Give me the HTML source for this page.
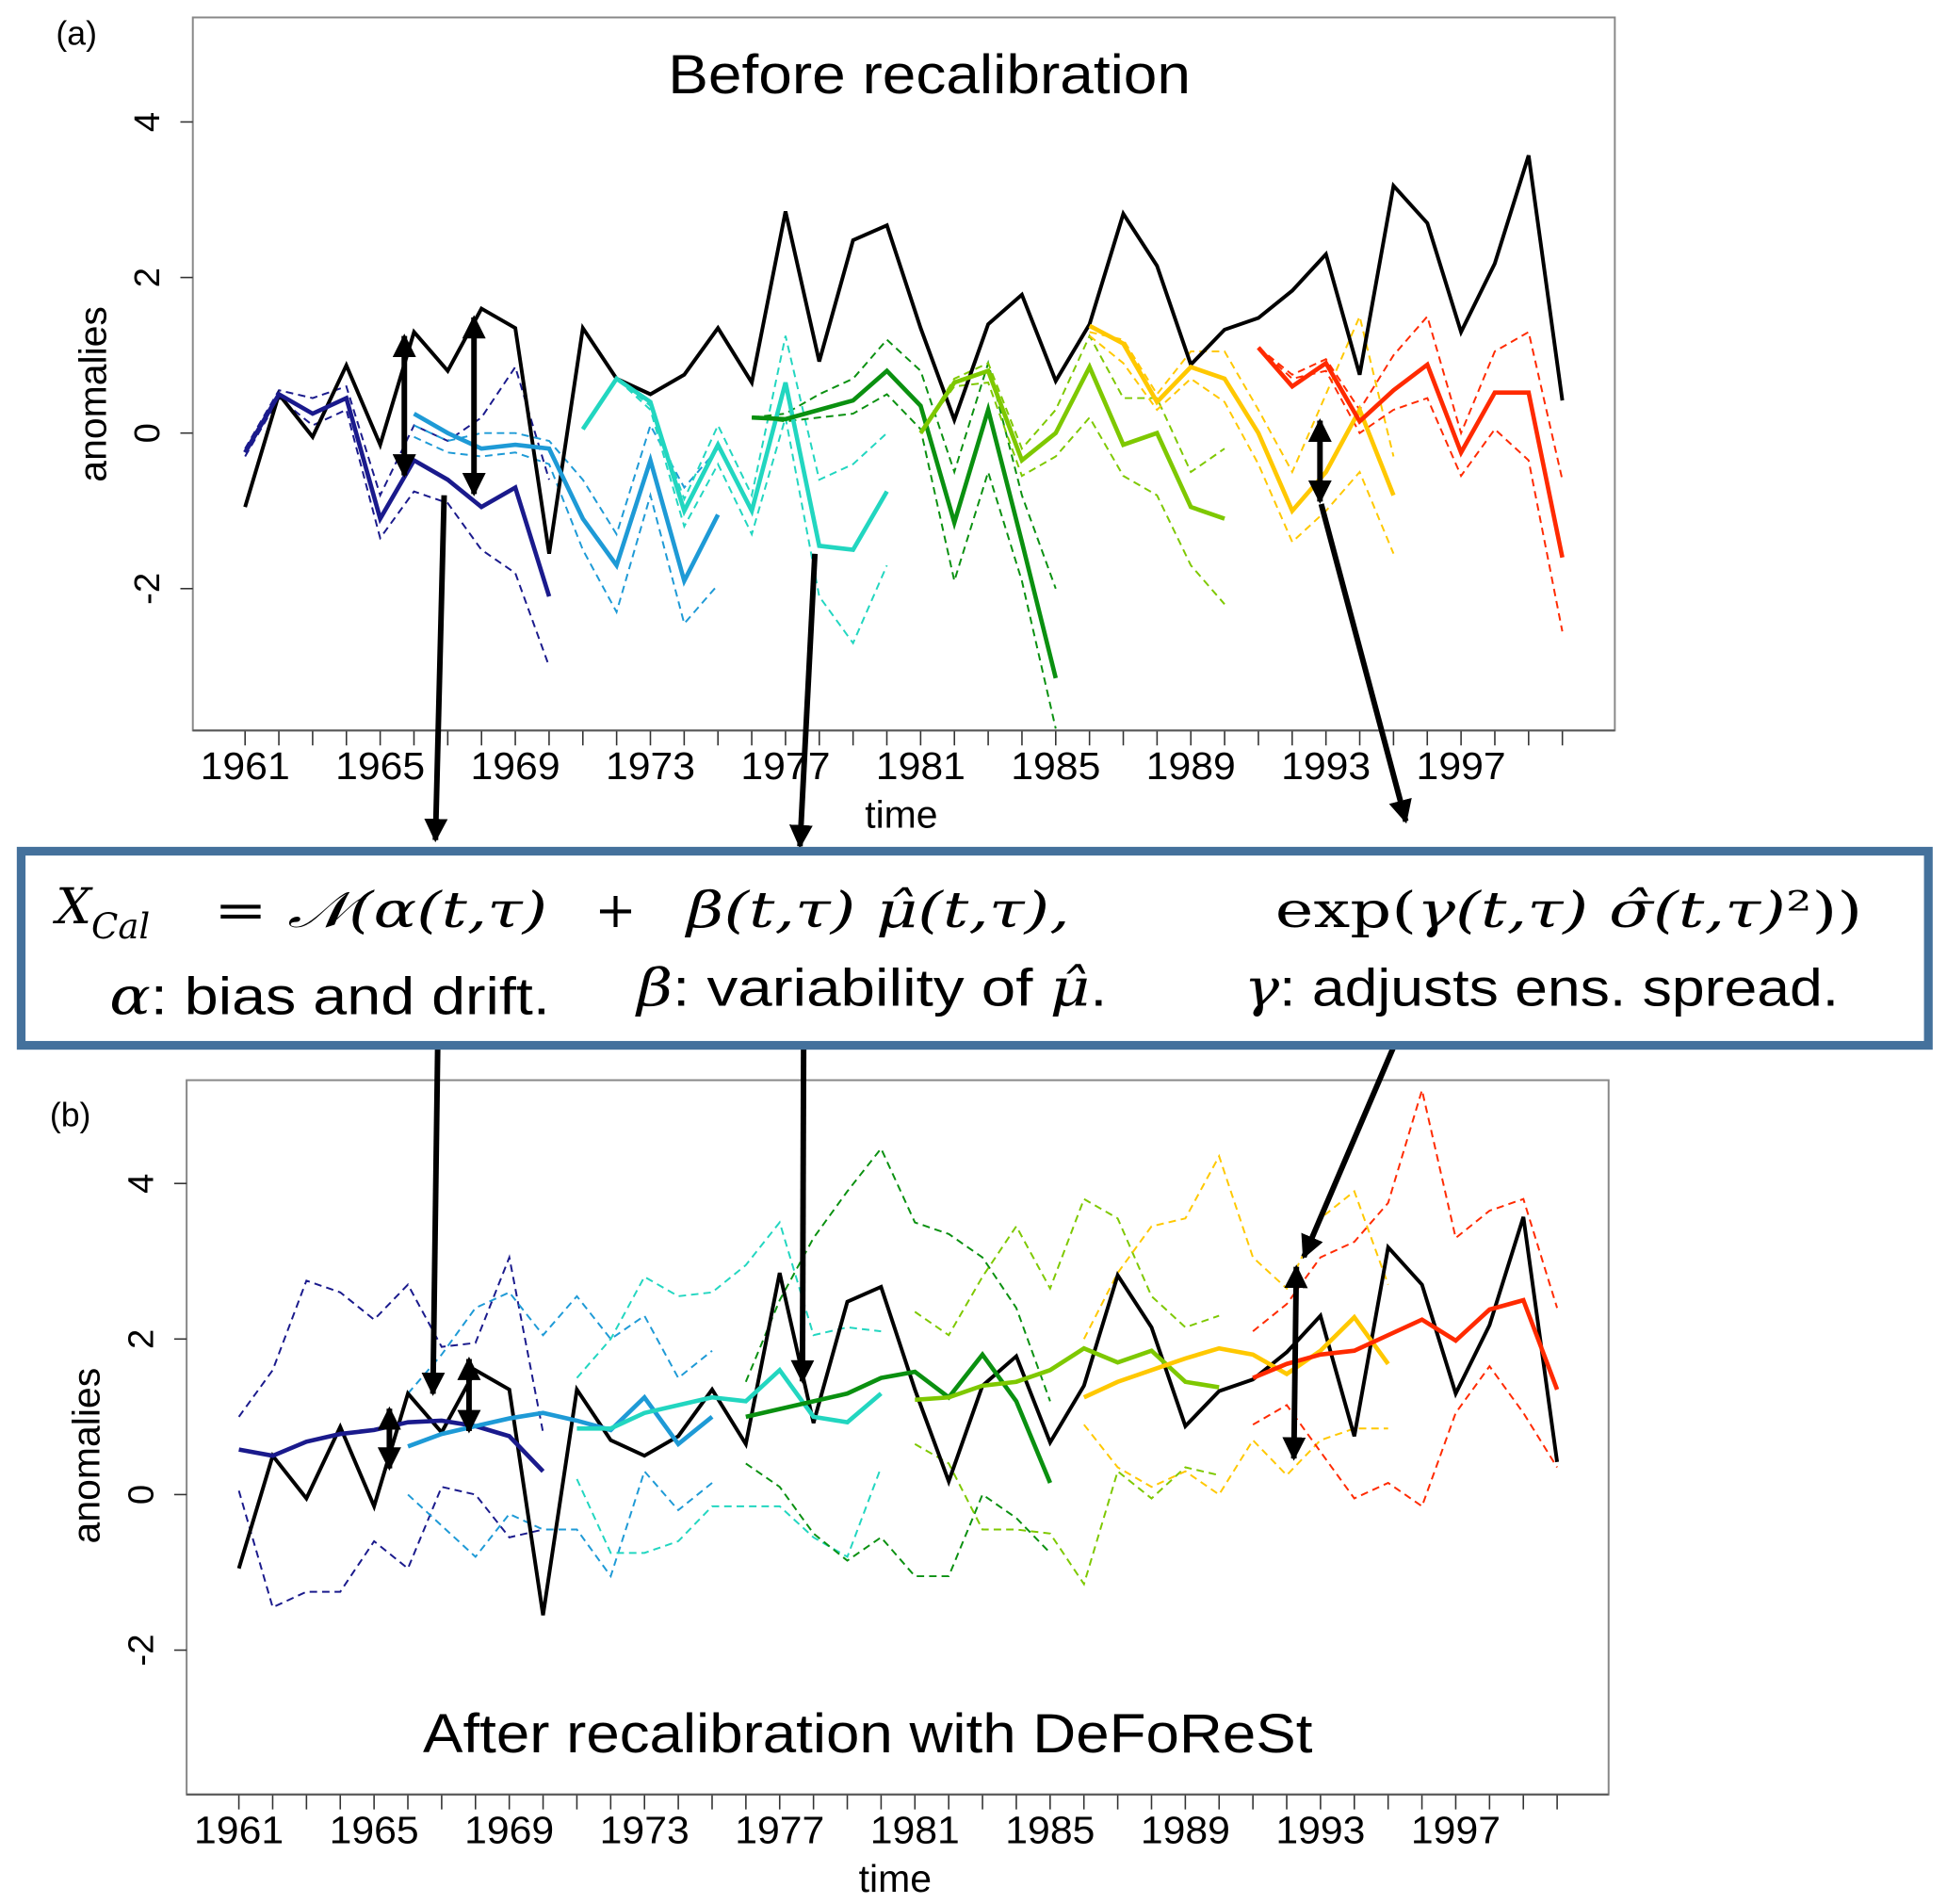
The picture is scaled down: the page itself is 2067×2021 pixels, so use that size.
<!DOCTYPE html>
<html><head><meta charset="utf-8"><style>
html,body{margin:0;padding:0;background:#fff;}
svg{display:block;}
text{font-family:"Liberation Sans",sans-serif;}
.cal{font-family:"Liberation Sans Narrow","Liberation Sans",sans-serif;}
.math{font-family:"DejaVu Serif","Liberation Serif",serif;font-style:italic;}
.up{font-family:"DejaVu Serif","Liberation Serif",serif;font-style:normal;}
</style></head><body>
<svg id="fig" width="2067" height="2021" viewBox="0 0 1565 1530" preserveAspectRatio="none" xmlns="http://www.w3.org/2000/svg">
<defs>
<marker id="ah" viewBox="0 0 10 10" refX="9" refY="5" markerWidth="4.2" markerHeight="4.2" orient="auto-start-reverse"><path d="M0,0 L10,5 L0,10 z" fill="#000"/></marker>
</defs>
<g id="panelA"></g>
<g id="panelB"></g>
<g id="arrows"></g>
<g>
<rect x="17" y="684" width="1533" height="156" fill="#fff" stroke="#44719c" stroke-width="7"/>
<text x="45" y="742" font-size="40" class="math">X<tspan font-size="28" dy="12">Cal</tspan></text>
<text x="172" y="745" font-size="40" class="math" textLength="268" lengthAdjust="spacingAndGlyphs"><tspan class="up">= </tspan>𝒩(α(t,τ)</text>
<text x="478" y="745" font-size="40" class="up">+</text>
<text x="552" y="745" font-size="40" class="math" textLength="308" lengthAdjust="spacingAndGlyphs">β(t,τ) μ̂(t,τ),</text>
<text x="1025" y="745" font-size="40" class="math" textLength="472" lengthAdjust="spacingAndGlyphs"><tspan class="up">exp(</tspan>γ(t,τ) σ̂(t,τ)<tspan class="up">²))</tspan></text>
<text x="88" y="815" font-size="42" class="cal" textLength="354" lengthAdjust="spacingAndGlyphs"><tspan class="math">α</tspan>: bias and drift.</text>
<text x="512" y="808" font-size="42" class="cal" textLength="378" lengthAdjust="spacingAndGlyphs"><tspan class="math">β</tspan>: variability of <tspan class="math">μ̂</tspan>.</text>
<text x="1000" y="808" font-size="42" class="cal" textLength="478" lengthAdjust="spacingAndGlyphs"><tspan class="math">γ</tspan>: adjusts ens. spread.</text>
</g>
</svg>
<script>
const years = [1961,1962,1963,1964,1965,1966,1967,1968,1969,1970,1971,1972,1973,1974,1975,1976,1977,1978,1979,1980,1981,1982,1983,1984,1985,1986,1987,1988,1989,1990,1991,1992,1993,1994,1995,1996,1997,1998,1999,2000];
const obs = [-0.95,0.5,-0.05,0.87,-0.15,1.3,0.8,1.6,1.35,-1.55,1.35,0.7,0.5,0.75,1.35,0.65,2.85,0.92,2.48,2.67,1.35,0.17,1.4,1.78,0.67,1.4,2.82,2.15,0.88,1.33,1.48,1.83,2.3,0.75,3.18,2.7,1.3,2.18,3.57,0.42];
const startYears = [1961,1966,1971,1976,1981,1986,1991];
const colors = ["#1a1a8c","#1e9ad6","#22d6c0","#0a9010","#7ec800","#ffc800","#ff2a00"];
// Panel (a) before recalibration
const aMean = [
[-0.25,0.5,0.25,0.45,-1.1,-0.35,-0.6,-0.95,-0.7,-2.1],
[0.25,0.0,-0.2,-0.15,-0.2,-1.1,-1.7,-0.35,-1.9,-1.05],
[0.05,0.7,0.4,-1.0,-0.15,-1.0,0.65,-1.45,-1.5,-0.75],
[0.2,0.18,0.3,0.42,0.8,0.35,-1.15,0.3,-1.4,-3.15],
[0.0,0.65,0.8,-0.35,0.0,0.85,-0.15,0.0,-0.95,-1.1],
[1.38,1.15,0.4,0.85,0.7,0.0,-1.0,-0.5,0.3,-0.8],
[1.1,0.6,0.9,0.15,0.55,0.88,-0.25,0.52,0.52,-1.6]];
const aUpper = [
[-0.2,0.55,0.45,0.6,-0.8,0.1,-0.1,0.2,0.85,-0.6],
[0.1,-0.1,0.0,0.0,-0.1,-0.6,-1.3,0.1,-0.7,-0.2],
[0.05,0.7,0.35,-0.85,0.1,-0.8,1.25,-0.6,-0.4,0.0],
[0.2,0.25,0.5,0.7,1.2,0.8,-0.5,0.9,-0.8,-2.0],
[0.0,0.7,0.9,-0.2,0.3,1.25,0.45,0.45,-0.5,-0.2],
[1.3,1.2,0.5,1.05,1.05,0.3,-0.5,0.5,1.5,-0.3],
[1.1,0.75,0.95,0.3,1.0,1.5,0.0,1.05,1.3,-0.6]];
const aLower = [
[-0.3,0.45,0.1,0.3,-1.35,-0.75,-0.9,-1.5,-1.8,-3.0],
[-0.05,-0.25,-0.3,-0.25,-0.4,-1.5,-2.3,-0.8,-2.45,-1.95],
[0.05,0.7,0.3,-1.2,-0.4,-1.3,0.2,-2.1,-2.7,-1.7],
[0.2,0.15,0.2,0.25,0.5,0.05,-1.9,-0.5,-1.9,-3.8],
[0.0,0.6,0.65,-0.55,-0.3,0.2,-0.55,-0.8,-1.7,-2.2],
[1.25,0.9,0.3,0.7,0.4,-0.4,-1.4,-1.0,-0.5,-1.55],
[1.1,0.7,0.8,0.0,0.3,0.45,-0.55,0.05,-0.35,-2.55]];
// Panel (b) after recalibration
const bMean = [
[0.58,0.5,0.68,0.78,0.83,0.93,0.95,0.88,0.75,0.3],
[0.62,0.78,0.88,0.98,1.05,0.95,0.83,1.25,0.65,1.0],
[0.85,0.85,1.05,1.15,1.25,1.2,1.6,1.0,0.93,1.3],
[1.0,1.1,1.2,1.3,1.5,1.58,1.25,1.8,1.2,0.15],
[1.22,1.25,1.4,1.45,1.6,1.88,1.7,1.85,1.45,1.38],
[1.25,1.45,1.6,1.75,1.88,1.8,1.55,1.85,2.28,1.68],
[1.5,1.68,1.8,1.85,2.05,2.25,1.98,2.38,2.5,1.35]];
const bUpper = [
[1.0,1.6,2.75,2.6,2.25,2.7,1.9,1.95,3.05,0.8],
[1.3,1.8,2.4,2.6,2.05,2.55,2.0,2.3,1.5,1.85],
[1.5,2.0,2.8,2.55,2.6,2.95,3.5,2.05,2.15,2.1],
[1.45,2.5,3.3,3.9,4.45,3.5,3.35,3.05,2.4,1.2],
[2.35,2.05,2.8,3.45,2.65,3.8,3.55,2.55,2.15,2.3],
[2.0,2.85,3.45,3.55,4.35,3.05,2.65,3.55,3.9,2.7],
[2.1,2.45,3.05,3.25,3.75,5.2,3.3,3.65,3.8,2.4]];
const bLower = [
[0.05,-1.45,-1.25,-1.25,-0.6,-0.95,0.1,0.0,-0.55,-0.45],
[0.0,-0.4,-0.8,-0.25,-0.45,-0.45,-1.05,0.3,-0.2,0.15],
[0.2,-0.75,-0.75,-0.6,-0.15,-0.15,-0.15,-0.55,-0.8,0.35],
[0.4,0.1,-0.5,-0.85,-0.55,-1.05,-1.05,0.0,-0.3,-0.75],
[0.65,0.4,-0.45,-0.45,-0.5,-1.15,0.3,-0.05,0.35,0.25],
[0.9,0.35,0.1,0.3,0.0,0.7,0.25,0.7,0.85,0.85],
[0.9,1.15,0.55,-0.05,0.15,-0.15,1.05,1.65,1.05,0.35]];
const yTicks = [-2,0,2,4];
const xTickLabels = [1961,1965,1969,1973,1977,1981,1985,1989,1993,1997];

const NS="http://www.w3.org/2000/svg";
function mk(tag,attrs,parent){const e=document.createElementNS(NS,tag);for(const k in attrs)e.setAttribute(k,attrs[k]);parent.appendChild(e);return e;}

function drawPanel(g, P, mean, upper, lower, label, title, titleY, idp){
  const xs=y=>P.x0+(y-1961)*P.dx;
  const ys=v=>P.y0-v*P.dy;
  const box=mk('rect',{x:P.bx0,y:P.by0,width:P.bx1-P.bx0,height:P.by1-P.by0,fill:'none',stroke:'#888','stroke-width':1.5},g);
  
  
  const clipId=idp+'clip';
  const cp=mk('clipPath',{id:clipId},g);
  mk('rect',{x:P.bx0,y:P.by0,width:P.bx1-P.bx0,height:P.by1-P.by0},cp);
  years.forEach(y=>{
    const t=mk('line',{x1:xs(y),x2:xs(y),y1:P.by1,y2:P.by1+12,stroke:'#333','stroke-width':1.2},g);
    
    
  });
  mk('line',{x1:P.bx0,x2:P.bx1,y1:P.by1,y2:P.by1,stroke:'#555','stroke-width':1.5},g);
  xTickLabels.forEach(y=>{
    const t=mk('text',{x:xs(y)-36,y:P.by1+39,'font-size':31,class:'cal',textLength:72,lengthAdjust:'spacingAndGlyphs'},g);
    t.textContent=y;
    
    
  });
  yTicks.forEach(v=>{
    const tl=mk('line',{x1:P.bx0-10,x2:P.bx0,y1:ys(v),y2:ys(v),stroke:'#333','stroke-width':1.2},g);
    
    
    const t=mk('text',{x:0,y:0,'text-anchor':'middle','font-size':29,transform:`translate(${P.bx0-27},${ys(v)}) rotate(-90)`},g);
    t.textContent=v;
    
    
  });
  const yl=mk('text',{x:0,y:0,'text-anchor':'middle','font-size':31,transform:`translate(${P.bx0-70},${ys(0.5)}) rotate(-90)`},g);
  yl.textContent='anomalies';
  
  
  const xl=mk('text',{x:(P.bx0+P.bx1)/2-2,y:P.by1+78,'text-anchor':'middle','font-size':31,class:'cal'},g);
  xl.textContent='time';
  
  
  const pl=mk('text',{x:P.bx0-110,y:P.by0+22+(idp==='b'?15:0),'font-size':27,class:'cal'},g);
  pl.textContent=label;
  
  
  const tt=mk('text',{x:title[1],y:titleY,'font-size':44,class:'cal',textLength:title[2],lengthAdjust:'spacingAndGlyphs'},g);
  tt.textContent=title[0];
  
  
  const dg=mk('g',{'clip-path':`url(#${clipId})`},g);
  const pts=(arr,s)=>arr.map((v,i)=>xs(s+i).toFixed(1)+','+ys(v).toFixed(1)).join(' ');
  startYears.forEach((s,k)=>{
    [upper[k],lower[k]].forEach((arr,j)=>{
      const l=mk('polyline',{points:pts(arr,s),fill:'none',stroke:colors[k],'stroke-width':1.5,'stroke-dasharray':'6,4'},dg);
      
      
    });
  });
  const ob=mk('polyline',{points:pts(obs,1961),fill:'none',stroke:'#000','stroke-width':3,'stroke-linejoin':'miter'},dg);
  
  
  startYears.forEach((s,k)=>{
    const l=mk('polyline',{points:pts(mean[k],s),fill:'none',stroke:colors[k],'stroke-width':3.5},dg);
    
    
  });
}
const PA={x0:197,dx:27.15,y0:348,dy:62.5,bx0:155,bx1:1298,by0:14,by1:587};
const PB={x0:192,dx:27.17,y0:1201,dy:62.5,bx0:150,bx1:1293,by0:868,by1:1442};
drawPanel(document.getElementById('panelA'),PA,aMean,aUpper,aLower,'(a)',['Before recalibration',537,420],75,'a');
drawPanel(document.getElementById('panelB'),PB,bMean,bUpper,bLower,'(b)',['After recalibration with DeFoReSt',340,715],1408,'b');

const ag=document.getElementById('arrows');
const arrowsSingle=[[357,398,350,675],[655,445,643,680],[1062,405,1130,660],[352,828,348,1120],[646,828,645,1110],[1125,830,1048,1010]];
const arrowsDouble=[[325,270,325,382],[381,255,381,397],[1061,338,1061,403],[313,1132,313,1180],[377,1092,377,1150],[1042,1018,1040,1172]];
arrowsSingle.forEach(a=>{
  const l=mk('line',{x1:a[0],y1:a[1],x2:a[2],y2:a[3],stroke:'#000','stroke-width':4.5,'marker-end':'url(#ah)'},ag);
  
  
});
arrowsDouble.forEach(a=>{
  const l=mk('line',{x1:a[0],y1:a[1],x2:a[2],y2:a[3],stroke:'#000','stroke-width':4.5,'marker-end':'url(#ah)','marker-start':'url(#ah)'},ag);
  
  
});
</script>
</body></html>
